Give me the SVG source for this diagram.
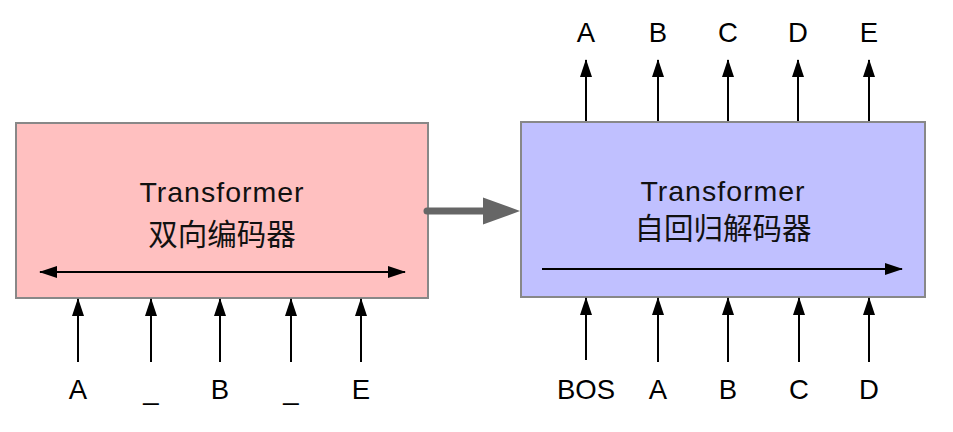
<svg xmlns="http://www.w3.org/2000/svg" width="953" height="432" viewBox="0 0 953 432">
<defs>
<style>
.box{stroke:#888;stroke-width:2}
.lbl{font-family:"Liberation Sans","Noto Sans CJK SC",sans-serif;font-size:27.5px;fill:#000;text-anchor:middle}
.ttl{font-family:"Liberation Sans","Noto Sans CJK SC",sans-serif;font-size:28.5px;fill:#111;text-anchor:middle;letter-spacing:1px}
.cjk{font-family:"Noto Sans CJK SC",sans-serif;font-size:29.5px;fill:#111;text-anchor:middle}
.ln{stroke:#000;stroke-width:2;fill:none}
</style>
<marker id="ah" markerWidth="18" markerHeight="12" refX="17" refY="6" orient="auto-start-reverse" markerUnits="userSpaceOnUse">
<path d="M0,0 L18,6 L0,12 z" fill="#000"/>
</marker>
</defs>
<rect width="953" height="432" fill="#fff"/>
<g id="encoder">
<rect class="box" x="16" y="123" width="412" height="175" fill="#ffc0c0"/>
<text class="ttl" x="222" y="202">Transformer</text>
<text class="cjk" x="222" y="245">双向编码器</text>
</g>
<g id="decoder">
<rect class="box" x="521" y="122" width="404" height="175" fill="#c0c0ff"/>
<text class="ttl" x="723" y="201">Transformer</text>
<text class="cjk" x="723" y="239">自回归解码器</text>
</g>
<g id="enc-inputs">
<text class="lbl" x="78" y="399">A</text>
<text class="lbl" x="151" y="399">_</text>
<text class="lbl" x="220" y="399">B</text>
<text class="lbl" x="291" y="399">_</text>
<text class="lbl" x="361" y="399">E</text>
</g>
<g id="dec-inputs">
<text class="lbl" x="586" y="399">BOS</text>
<text class="lbl" x="658" y="399">A</text>
<text class="lbl" x="728" y="399">B</text>
<text class="lbl" x="799" y="399">C</text>
<text class="lbl" x="869" y="399">D</text>
</g>
<g id="dec-outputs">
<text class="lbl" x="586" y="42">A</text>
<text class="lbl" x="658" y="42">B</text>
<text class="lbl" x="728" y="42">C</text>
<text class="lbl" x="798" y="42">D</text>
<text class="lbl" x="869" y="42">E</text>
</g>
<g id="connectors">
<line class="ln" x1="40" y1="272" x2="405" y2="272" marker-start="url(#ah)" marker-end="url(#ah)"/>
<line class="ln" x1="542" y1="269" x2="902" y2="269" marker-end="url(#ah)"/>
<line x1="427" y1="211" x2="490" y2="211" stroke="#666" stroke-width="7" stroke-linecap="round"/>
<polygon points="483,197.5 520,211 483,224.5" fill="#666"/>
<line class="ln" x1="78" y1="362" x2="78" y2="299" marker-end="url(#ah)"/>
<line class="ln" x1="151" y1="362" x2="151" y2="299" marker-end="url(#ah)"/>
<line class="ln" x1="220" y1="362" x2="220" y2="299" marker-end="url(#ah)"/>
<line class="ln" x1="291" y1="362" x2="291" y2="299" marker-end="url(#ah)"/>
<line class="ln" x1="361" y1="362" x2="361" y2="299" marker-end="url(#ah)"/>
<line class="ln" x1="586" y1="360" x2="586" y2="298" marker-end="url(#ah)"/>
<line class="ln" x1="658" y1="362" x2="658" y2="298" marker-end="url(#ah)"/>
<line class="ln" x1="728" y1="362" x2="728" y2="298" marker-end="url(#ah)"/>
<line class="ln" x1="799" y1="362" x2="799" y2="298" marker-end="url(#ah)"/>
<line class="ln" x1="869" y1="362" x2="869" y2="298" marker-end="url(#ah)"/>
<line class="ln" x1="586" y1="121" x2="586" y2="60" marker-end="url(#ah)"/>
<line class="ln" x1="658" y1="121" x2="658" y2="60" marker-end="url(#ah)"/>
<line class="ln" x1="728" y1="121" x2="728" y2="60" marker-end="url(#ah)"/>
<line class="ln" x1="798" y1="121" x2="798" y2="60" marker-end="url(#ah)"/>
<line class="ln" x1="869" y1="121" x2="869" y2="60" marker-end="url(#ah)"/>
</g>
</svg>
